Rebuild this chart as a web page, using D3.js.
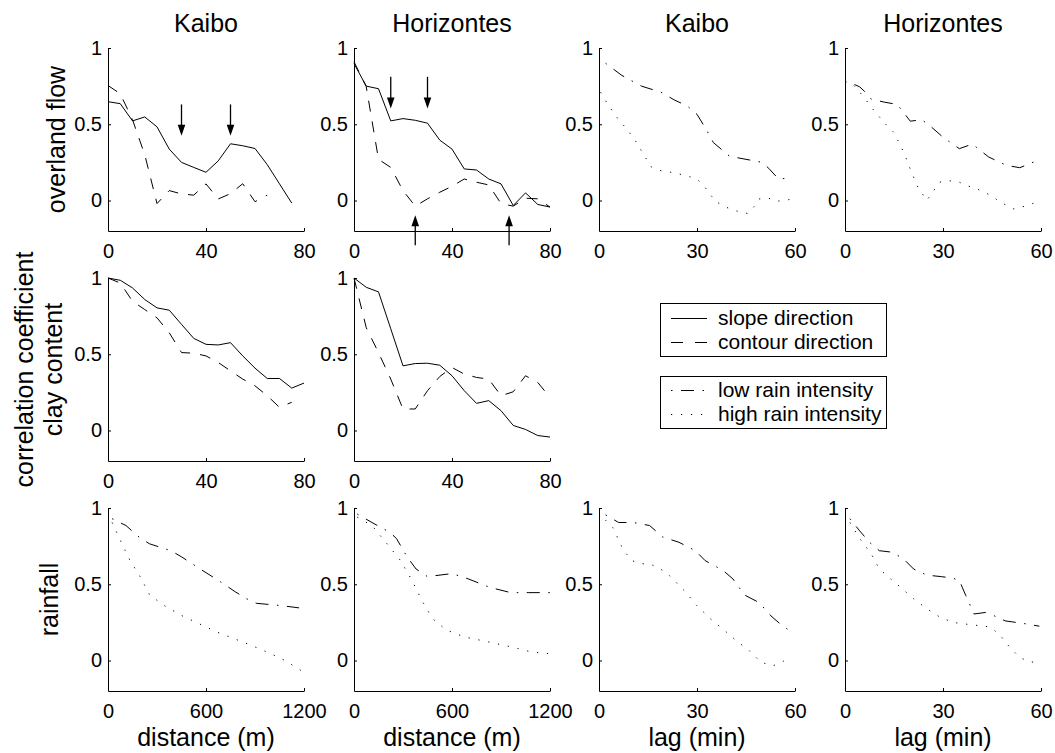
<!DOCTYPE html>
<html>
<head>
<meta charset="utf-8">
<script src="https://cdn.jsdelivr.net/npm/d3@7"></script>
<style>
body{margin:0;background:#fff;}
svg text{font-family:"Liberation Sans",Arial,Helvetica,sans-serif;fill:#000;}
</style>
</head>
<body>
<div id="chart"></div>
<script>
// distance steps (m) for overland flow and clay content
const distSteps = [0,5,10,15,20,25,30,35,40,45,50,55,60,65,70,75,80];

// overland flow, slope / contour direction
const kaiboFlowSlope = [0.648,0.635,0.522,0.548,0.483,0.337,0.25,0.217,0.185,0.26,0.372,0.359,0.341,0.235,0.109,-0.017];
const kaiboFlowContour = [0.754,0.70,0.53,0.30,-0.02,0.065,0.043,0.035,0.109,0.01,0.045,0.11,-0.008,0.035];
const horizFlowSlope = [0.898,0.75,0.733,0.522,0.537,0.526,0.507,0.396,0.337,0.207,0.2,0.141,0.109,-0.033,0.05,-0.026,-0.043];
const horizFlowContour = [0.91,0.746,0.27,0.217,0.065,-0.037,0.011,0.054,0.093,0.141,0.12,0.102,-0.02,-0.037,0.015,0.011,-0.043];

// clay content, slope / contour direction
const kaiboClaySlope = [1.0,0.985,0.935,0.859,0.804,0.789,0.696,0.604,0.565,0.561,0.576,0.489,0.409,0.341,0.341,0.278,0.311];
const kaiboClayContour = [1.0,0.967,0.848,0.793,0.739,0.641,0.511,0.507,0.489,0.446,0.391,0.337,0.293,0.228,0.152,0.185];
const horizClaySlope = [1.0,0.939,0.909,0.667,0.424,0.439,0.441,0.428,0.359,0.261,0.178,0.196,0.13,0.033,0.007,-0.033,-0.043];
const horizClayContour = [1.0,0.674,0.511,0.337,0.141,0.141,0.261,0.354,0.413,0.37,0.348,0.337,0.228,0.254,0.359,0.315,0.217];

// overland flow vs lag (min), low / high rain intensity
const kaiboFlowLagLow = [[2,0.90],[7,0.82],[13,0.75],[19,0.71],[23,0.66],[27,0.62],[30,0.565],[33,0.46],[35,0.38],[40,0.29],[45,0.27],[50,0.25],[52,0.21],[55,0.14],[59,0.15]];
const kaiboFlowLagHigh = [[0.5,0.71],[3,0.62],[6,0.53],[8.5,0.47],[11.5,0.38],[14,0.29],[16,0.22],[19,0.195],[22,0.185],[26.5,0.165],[30,0.14],[32,0.1],[34,0.04],[36,-0.01],[39,-0.045],[43,-0.075],[45.5,-0.085],[47.5,-0.04],[49,0.01],[52,0.015],[54,-0.005],[57,0.0],[60,0.015]];
const horizFlowLagLow = [[0,0.78],[2,0.77],[4.5,0.745],[6,0.715],[8,0.665],[12,0.645],[16,0.63],[20,0.52],[23.5,0.53],[26,0.49],[30,0.415],[35,0.34],[39,0.37],[44,0.285],[49.5,0.23],[53.5,0.215],[57,0.245],[60,0.275]];
const horizFlowLagHigh = [[0,0.78],[2.5,0.76],[5.5,0.685],[8.5,0.6],[12,0.51],[15,0.445],[18,0.315],[20,0.205],[22,0.1],[25,0.0],[26.5,0.045],[29,0.12],[31.5,0.13],[34.5,0.125],[37,0.1],[40.5,0.075],[44.5,0.035],[47.5,-0.01],[51.5,-0.055],[55.5,-0.035],[60,0.0]];

// rainfall vs distance (m)
const kaiboRainDistLow = [[25,0.93],[110,0.885],[200,0.80],[255,0.765],[385,0.72],[450,0.68],[550,0.61],[690,0.515],[780,0.45],[865,0.395],[910,0.375],[1060,0.36],[1170,0.345]];
const kaiboRainDistHigh = [[25,0.905],[70,0.80],[135,0.655],[200,0.545],[255,0.43],[345,0.36],[450,0.295],[560,0.24],[670,0.185],[780,0.14],[875,0.1],[975,0.055],[1085,0.0],[1195,-0.075]];
const horizRainDistLow = [[20,0.96],[110,0.905],[220,0.84],[260,0.8],[325,0.68],[380,0.6],[450,0.55],[600,0.57],[700,0.535],[830,0.48],[960,0.445],[1070,0.445],[1200,0.445]];
const horizRainDistHigh = [[20,0.94],[110,0.885],[195,0.775],[285,0.655],[350,0.535],[415,0.395],[480,0.275],[565,0.2],[675,0.155],[830,0.12],[980,0.085],[1090,0.055],[1200,0.045]];

// rainfall vs lag (min)
const kaiboRainLagLow = [[2,0.955],[6,0.905],[10.5,0.905],[15.5,0.885],[19.5,0.81],[24.5,0.775],[29.5,0.72],[32.5,0.655],[38,0.59],[41,0.535],[44.5,0.43],[49,0.38],[53,0.285],[55.5,0.24],[59,0.185]];
const kaiboRainLagHigh = [[2,0.92],[4.3,0.87],[7.3,0.73],[10,0.655],[13,0.635],[16,0.63],[20.5,0.58],[23,0.525],[26.5,0.45],[29.5,0.37],[34,0.275],[38,0.205],[42,0.13],[46,0.065],[49.5,-0.01],[53,-0.035],[55.5,-0.02],[58,0.02]];
const horizRainLagLow = [[1.5,0.93],[4.5,0.85],[7.5,0.775],[10.5,0.72],[14.5,0.71],[18,0.665],[21,0.6],[25,0.56],[29.5,0.55],[33,0.54],[35,0.525],[37,0.425],[39.5,0.305],[43,0.315],[45.5,0.295],[49,0.26],[55.5,0.24],[59.5,0.225]];
const horizRainLagHigh = [[1.5,0.905],[4.5,0.8],[8,0.7],[10.5,0.6],[14,0.535],[17,0.48],[21,0.405],[25,0.34],[29,0.285],[33,0.25],[36.5,0.24],[40.5,0.23],[44.5,0.22],[47.5,0.165],[50.5,0.085],[53.5,0.02],[56.5,-0.01],[60,-0.01]];

// arrows: [x, tail value, tip value]
const kaiboFlowArrows = [[30,0.63,0.424],[50,0.63,0.424]];
const horizFlowArrows = [[15,0.811,0.603],[30,0.811,0.603],[25,-0.293,-0.096],[63.3,-0.293,-0.096]];

// ticks and labels
const yTicks = [0,0.5,1];
const distTicks = [0,40,80];
const rainDistTicks = [0,600,1200];
const lagTicks = [0,30,60];
const colTitles = ["Kaibo","Horizontes","Kaibo","Horizontes"];
const legendLabels = [["slope direction","contour direction"],["low rain intensity","high rain intensity"]];

const dash = {
    solid: null,
    dashed: "11,10",
    dashdot: "1.5,8.5,13,8.5",
    dotted: "1.2,8.8"
};

const colX = [108, 354, 599, 845];
const rowY = [48, 278, 508];
const pw = 196, ph = 183;

const svg = d3.select("#chart").append("svg")
    .attr("width", 1055)
    .attr("height", 753);

const zipX = (xs, ys) => ys.map((v,i)=>[xs[i], v]);

const panels = [
    {col:0,row:0,xDomain:[0,80],xTicks:distTicks,arrows:kaiboFlowArrows,
        series:[{d:zipX(distSteps,kaiboFlowSlope),s:"solid"},{d:zipX(distSteps,kaiboFlowContour),s:"dashed"}]},
    {col:1,row:0,xDomain:[0,80],xTicks:distTicks,arrows:horizFlowArrows,
        series:[{d:zipX(distSteps,horizFlowSlope),s:"solid"},{d:zipX(distSteps,horizFlowContour),s:"dashed"}]},
    {col:2,row:0,xDomain:[0,60],xTicks:lagTicks,
        series:[{d:kaiboFlowLagLow,s:"dashdot"},{d:kaiboFlowLagHigh,s:"dotted"}]},
    {col:3,row:0,xDomain:[0,60],xTicks:lagTicks,
        series:[{d:horizFlowLagLow,s:"dashdot"},{d:horizFlowLagHigh,s:"dotted"}]},
    {col:0,row:1,xDomain:[0,80],xTicks:distTicks,
        series:[{d:zipX(distSteps,kaiboClaySlope),s:"solid"},{d:zipX(distSteps,kaiboClayContour),s:"dashed"}]},
    {col:1,row:1,xDomain:[0,80],xTicks:distTicks,
        series:[{d:zipX(distSteps,horizClaySlope),s:"solid"},{d:zipX(distSteps,horizClayContour),s:"dashed"}]},
    {col:0,row:2,xDomain:[0,1200],xTicks:rainDistTicks,xLabel:"distance (m)",
        series:[{d:kaiboRainDistLow,s:"dashdot"},{d:kaiboRainDistHigh,s:"dotted"}]},
    {col:1,row:2,xDomain:[0,1200],xTicks:rainDistTicks,xLabel:"distance (m)",
        series:[{d:horizRainDistLow,s:"dashdot"},{d:horizRainDistHigh,s:"dotted"}]},
    {col:2,row:2,xDomain:[0,60],xTicks:lagTicks,xLabel:"lag (min)",
        series:[{d:kaiboRainLagLow,s:"dashdot"},{d:kaiboRainLagHigh,s:"dotted"}]},
    {col:3,row:2,xDomain:[0,60],xTicks:lagTicks,xLabel:"lag (min)",
        series:[{d:horizRainLagLow,s:"dashdot"},{d:horizRainLagHigh,s:"dotted"}]}
];

function drawPanel(p){
    const x = d3.scaleLinear().domain(p.xDomain).range([colX[p.col], colX[p.col]+pw]);
    const y = d3.scaleLinear().domain([-0.2,1]).range([rowY[p.row]+ph, rowY[p.row]]);
    const g = svg.append("g");

    const xa = g.append("g")
        .attr("transform", `translate(0,${rowY[p.row]+ph})`)
        .call(d3.axisBottom(x).tickValues(p.xTicks).tickFormat(d3.format("")).tickSize(-3).tickSizeOuter(0).tickPadding(13));
    const ya = g.append("g")
        .attr("transform", `translate(${colX[p.col]},0)`)
        .call(d3.axisLeft(y).tickValues(yTicks).tickFormat(d3.format("")).tickSize(-3).tickSizeOuter(0).tickPadding(6));
    [xa, ya].forEach(a=>{
        a.select(".domain").attr("stroke","#000");
        a.selectAll(".tick line").attr("stroke","#000");
        a.selectAll(".tick text").attr("font-size",20).attr("font-family",null);
    });

    const line = d3.line().x(d=>x(d[0])).y(d=>y(d[1]));
    p.series.forEach(s=>{
        g.append("path")
            .datum(s.d)
            .attr("d", line)
            .attr("fill","none")
            .attr("stroke","#000")
            .attr("stroke-width",1)
            .attr("stroke-dasharray", dash[s.s]);
    });

    (p.arrows || []).forEach(a=>{
        const ax = x(a[0]), yTail = y(a[1]), yTip = y(a[2]);
        const dir = yTip > yTail ? 1 : -1;
        g.append("line")
            .attr("x1",ax).attr("x2",ax)
            .attr("y1",yTail).attr("y2",yTip - dir*6)
            .attr("stroke","#000").attr("stroke-width",1.3);
        g.append("path")
            .attr("d",`M${ax},${yTip}L${ax-3.8},${yTip-dir*11}L${ax+3.8},${yTip-dir*11}Z`)
            .attr("fill","#000");
    });

    if(p.row === 0){
        g.append("text")
            .attr("x", colX[p.col]+pw/2)
            .attr("y", 32)
            .attr("text-anchor","middle")
            .attr("font-size",25)
            .text(colTitles[p.col]);
    }
    if(p.xLabel){
        g.append("text")
            .attr("x", colX[p.col]+pw/2)
            .attr("y", 746)
            .attr("text-anchor","middle")
            .attr("font-size",25)
            .text(p.xLabel);
    }
}

panels.forEach(drawPanel);

// y labels
const yLabels = [
    {text:"overland flow", x:65, row:0},
    {text:"correlation coefficient", x:33, row:1},
    {text:"clay content", x:62, row:1},
    {text:"rainfall", x:58, row:2}
];
yLabels.forEach(l=>{
    const cy = rowY[l.row] + ph/2;
    svg.append("text")
        .attr("transform", `translate(${l.x},${cy}) rotate(-90)`)
        .attr("text-anchor","middle")
        .attr("font-size",25)
        .text(l.text);
});

// legends
const legendStyles = [["solid","dashed"],["dashdot","dotted"]];
const legendBoxes = [{y:303,h:53},{y:376,h:52}];
const legendBaselines = [[325,349],[397,421]];
const legendLineY = [[318,342],[390,414]];
legendBoxes.forEach((b,i)=>{
    const lg = svg.append("g");
    lg.append("rect")
        .attr("x",660.5).attr("y",b.y+0.5)
        .attr("width",226).attr("height",b.h)
        .attr("fill","#fff").attr("stroke","#000").attr("stroke-width",1);
    legendLabels[i].forEach((lab,j)=>{
        lg.append("line")
            .attr("x1",671).attr("x2",707)
            .attr("y1",legendLineY[i][j]+0.5).attr("y2",legendLineY[i][j]+0.5)
            .attr("stroke","#000").attr("stroke-width",1)
            .attr("stroke-dasharray", legendStyles[i][j] === "dashed" ? "12,12" : dash[legendStyles[i][j]]);
        lg.append("text")
            .attr("x",718).attr("y",legendBaselines[i][j])
            .attr("font-size",21)
            .text(lab);
    });
});
</script>
</body>
</html>
